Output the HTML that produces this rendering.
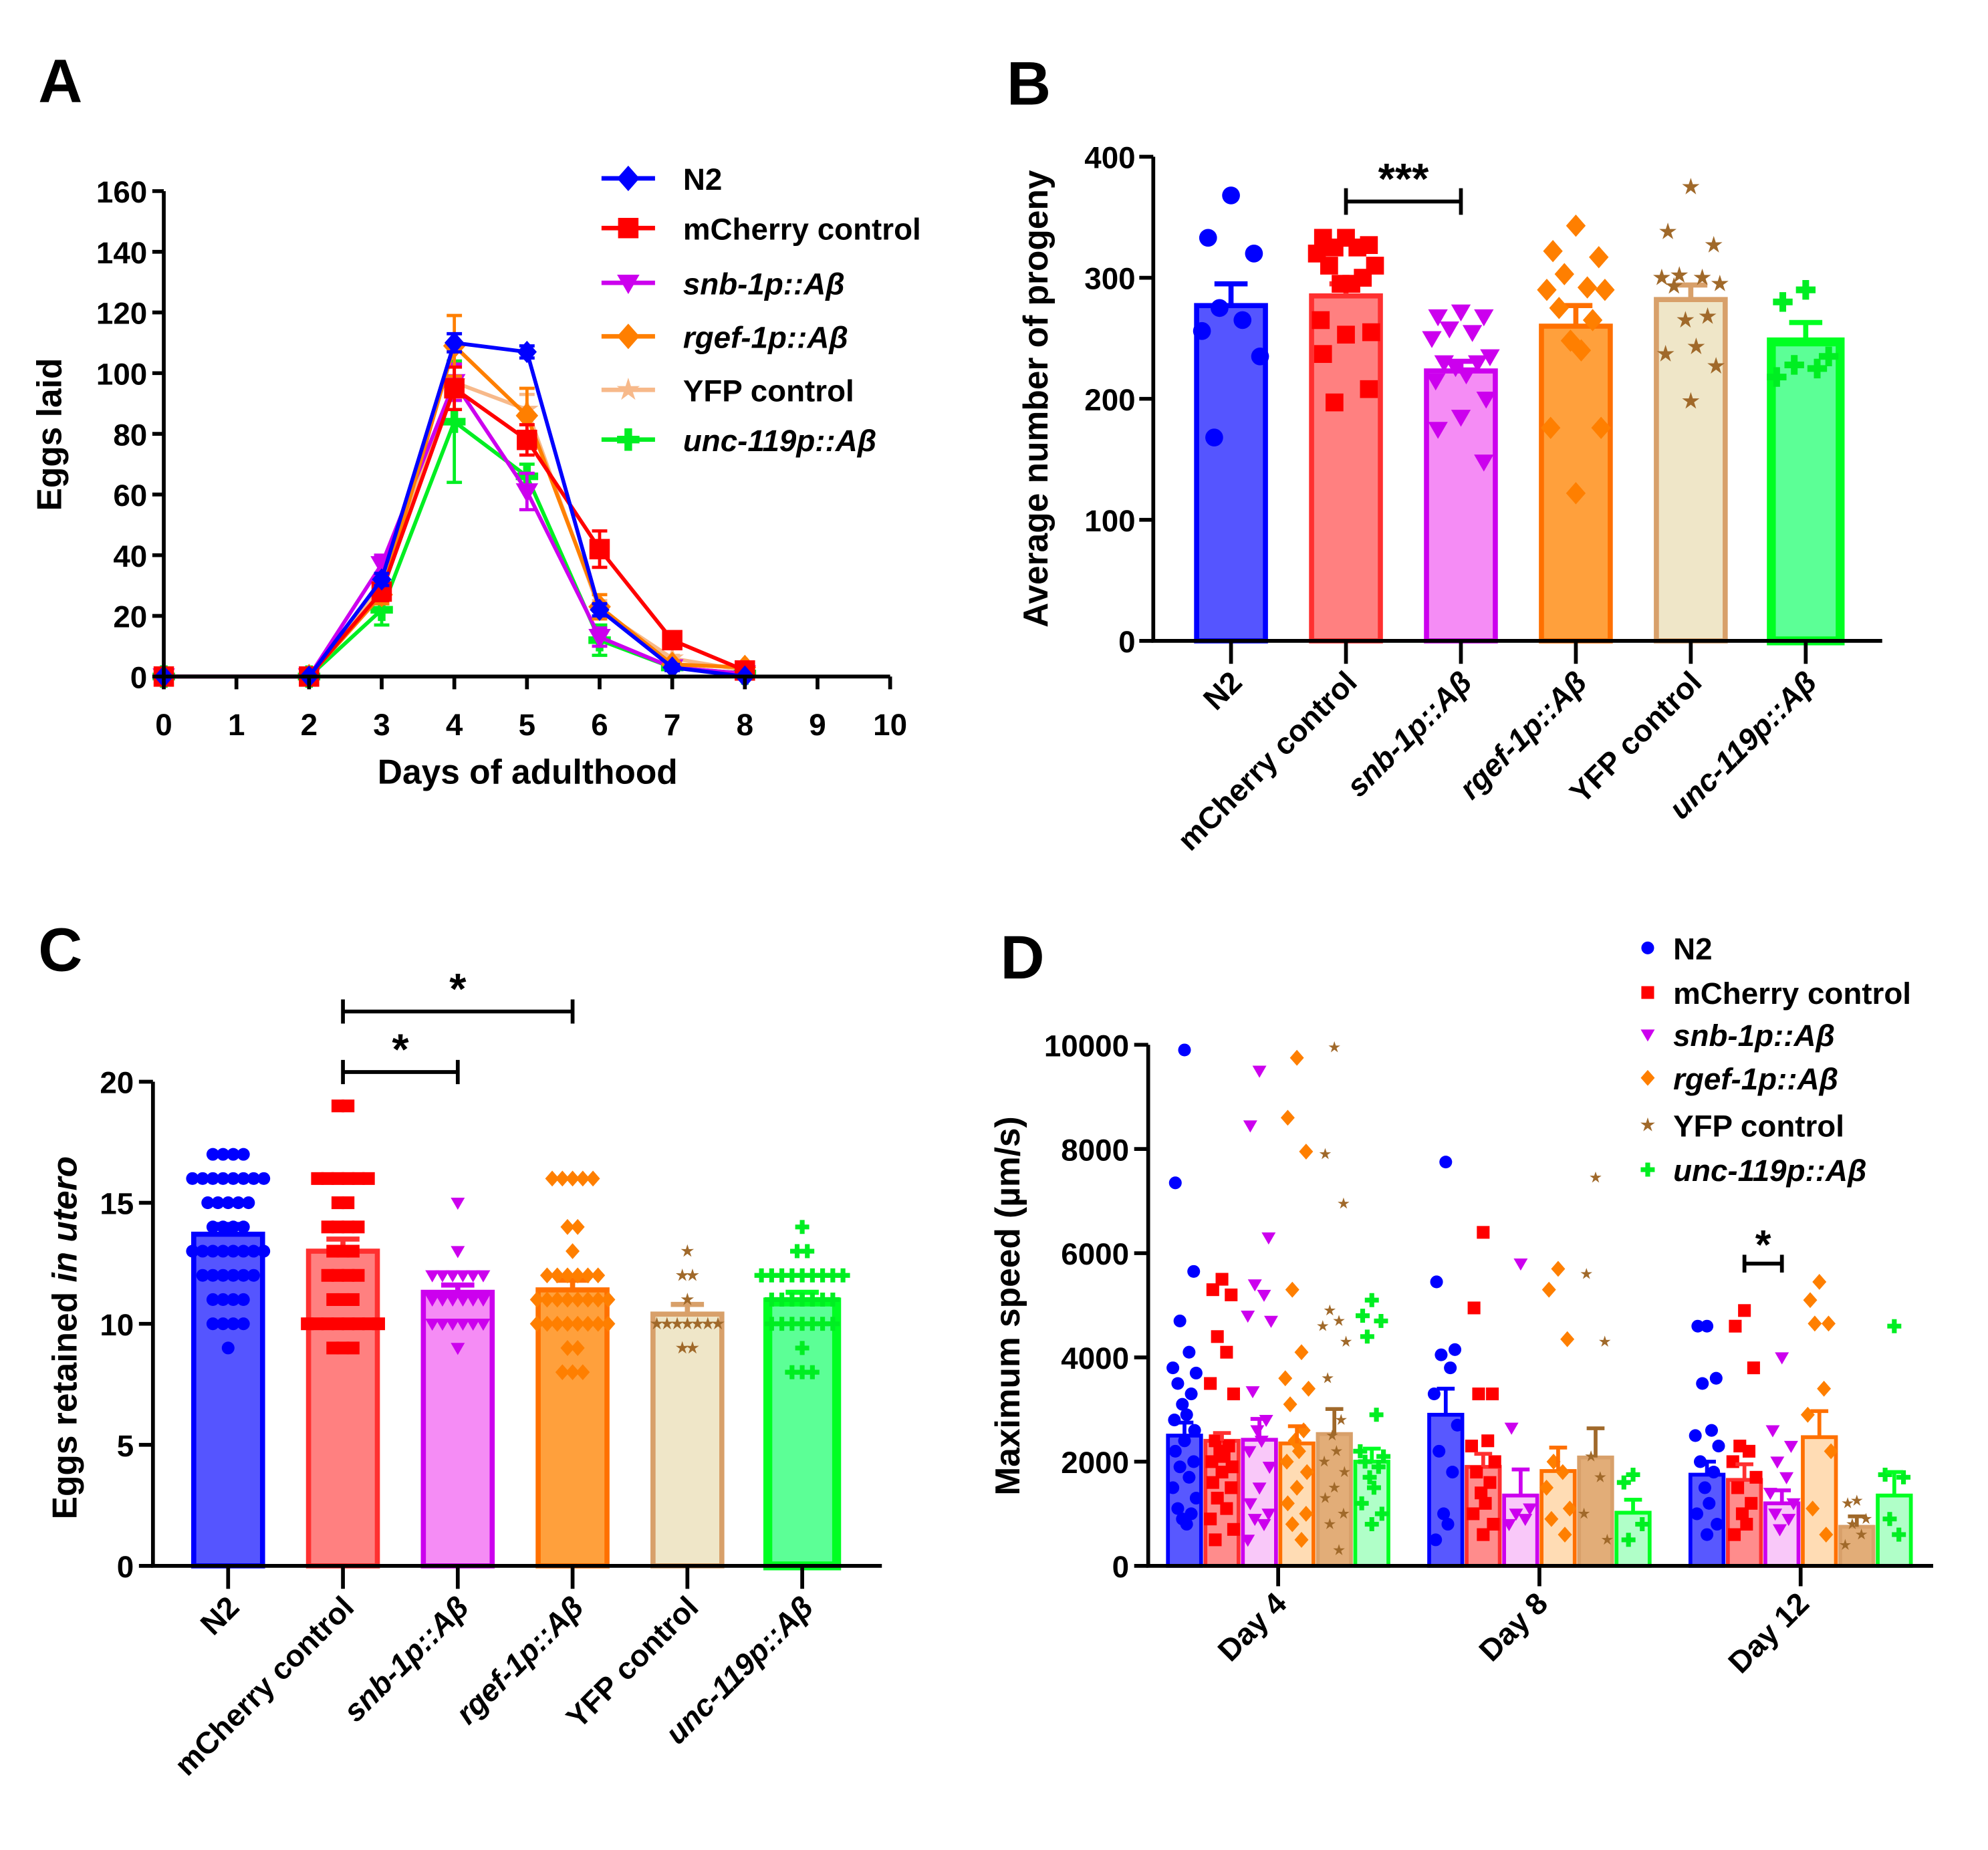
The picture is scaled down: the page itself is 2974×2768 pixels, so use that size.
<!DOCTYPE html>
<html><head><meta charset="utf-8"><style>
html,body{margin:0;padding:0;background:#fff;}
svg{display:block;font-family:"Liberation Sans",Arial,sans-serif;font-weight:bold;}
</style></head><body>
<svg id="fig" xmlns="http://www.w3.org/2000/svg" width="2974" height="2768" viewBox="0 0 1560 1452">
<rect x="0" y="0" width="1560" height="1452" fill="#fff"/>
<text x="30" y="80" font-size="48">A</text>
<text x="790" y="82" font-size="48">B</text>
<text x="30" y="762" font-size="48">C</text>
<text x="785" y="768" font-size="48">D</text>
<g id="A"></g>
<g id="B"></g>
<g id="C"></g>
<g id="D"></g>
</svg>
<script>
// ---------- shared data ----------
const groups = ["N2","mCherry control","snb-1p::Aβ","rgef-1p::Aβ","YFP control","unc-119p::Aβ"];
const italicGroup = [false,false,true,true,false,true];
const markerType = ["circle","square","tri","diamond","star","plus"];
const lineColor = ["#0000ff","#ff0000","#cc00ee","#ff7f00","#f7b98a","#00ee22"];
const pointColor = ["#0000ff","#ff0000","#cc00ee","#ff7f00","#a0692a","#00ee22"];
const fillB = ["#5555ff","#ff8080","#f58cf5","#ffa03c","#efe6c8","#5cff96"];
const strokeB = ["#0000ff","#ff3030","#cc00ee","#ff7000","#d8a06a","#00ff22"];
const fillD = ["#5858ff","#ff8c8c","#f9c8f9","#ffdcb4","#e2ad78","#b0ffc8"];

// ---------- panel A data ----------
const daysA = [0,2,3,4,5,6,7,8];
const eggsN2 = [0,0,32,110,107,22,3,0];
const eggsMCh = [0,0,28,95,78,42,12,2];
const eggsSnb = [0,0,37,97,61,13,3,1];
const eggsRgef = [0,0,27,109,86,23,4,3];
const eggsYFP = [0,0,30,97,88,22,6,2];
const eggsUnc = [0,0,22,84,66,12,3,1];
const errN2 = [0,0,2,3,2,2,1,0];
const errMCh = [0,0,3,7,5,6,2,1];
const errSnb = [0,0,3,6,6,3,1,0];
const errRgef = [0,0,3,10,9,4,1,1];
const errYFP = [0,0,3,6,5,3,1,0];
const errUnc = [0,0,5,20,4,5,1,0];
const yTicksA = [0,20,40,60,80,100,120,140,160];
const xTicksA = [0,1,2,3,4,5,6,7,8,9,10];

// ---------- panel B data ----------
const meanB = [277,285,223,260,282,247];
const semB = [18,10,8,17,12,16];
const ptsB0 = [368,333,320,275,265,256,235,168];
const ptsB1 = [333,333,327,325,325,320,310,310,300,295,295,265,255,253,237,208,197];
const ptsB2 = [272,268,268,258,255,250,235,230,230,226,220,215,200,185,175,148];
const ptsB3 = [343,322,317,303,292,290,290,275,265,248,240,176,176,122];
const ptsB4 = [375,338,327,302,300,300,295,293,268,265,243,237,227,198];
const ptsB5 = [290,280,235,228,225,218];
const yTicksB = [0,100,200,300,400];

// ---------- panel C data ----------
const meanC = [13.7,13.0,11.3,11.4,10.4,10.9];
const semC = [0.4,0.5,0.3,0.4,0.4,0.4];
const ptsC0 = [17,17,17,17,16,16,16,16,16,16,16,16,15,15,15,15,15,14,14,14,14,13,13,13,13,13,13,13,13,12,12,12,12,12,12,11,11,11,11,10,10,10,10,9];
const ptsC1 = [19,19,16,16,16,16,16,16,15,15,14,14,14,14,13,13,13,12,12,12,12,11,11,11,10,10,10,10,10,10,10,10,9,9,9];
const ptsC2 = [15,13,12,12,12,12,12,12,11,11,11,11,11,11,10,10,10,10,10,10,9];
const ptsC3 = [16,16,16,16,16,14,14,13,12,12,12,12,12,12,11,11,11,11,11,11,11,11,10,10,10,10,10,10,10,10,9,9,8,8,8];
const ptsC4 = [13,12,12,11,10,10,10,10,10,10,10,9,9];
const ptsC5 = [14,13,13,12,12,12,12,12,12,12,12,12,11,11,11,11,11,11,11,10,10,10,10,10,10,10,9,8,8,8];
const yTicksC = [0,5,10,15,20];

// ---------- panel D data ----------
const days = ["Day 4","Day 8","Day 12"];
const meanD4 = [2500,2400,2420,2350,2530,2000];
const meanD8 = [2900,1900,1350,1820,2080,1020];
const meanD12 = [1750,1650,1200,2470,750,1350];
const semD4 = [250,150,400,330,480,250];
const semD8 = [500,250,500,450,560,250];
const semD12 = [250,300,250,500,200,450];
const ptsD4_0 = [9900,7350,5650,4700,4100,3800,3700,3500,3300,3100,2900,2800,2600,2400,2200,2000,1900,1700,1500,1300,1100,1000,900,800];
const ptsD4_1 = [5500,5300,5200,4400,4100,3500,3300,2400,2300,2200,2100,2000,1900,1800,1600,1500,1300,1100,900,700,500];
const ptsD4_2 = [9500,8450,6300,5400,5200,4800,4700,3350,2800,2600,2400,2200,1900,1500,1200,1000,900,800,500];
const ptsD4_3 = [9750,8600,7950,5300,4100,3600,3400,3100,2600,2400,2200,2000,1800,1500,1200,1000,800,500];
const ptsD4_4 = [9950,7900,6950,4900,4700,4600,4300,3600,2800,2500,2200,2000,1800,1500,1300,1000,800,300];
const ptsD4_5 = [5100,4800,4700,4400,2900,2200,2100,2000,1900,1700,1500,1200,1000,800];
const ptsD8_0 = [7750,5450,4150,4050,3800,3300,2700,2200,1800,1000,800,500];
const ptsD8_1 = [6400,4950,3300,3300,2400,2300,2000,1800,1600,1400,1200,1000,800,600];
const ptsD8_2 = [5800,2650,1100,1000,900,800];
const ptsD8_3 = [5700,5300,4350,2000,1800,1500,1100,900,600];
const ptsD8_4 = [7450,5600,4300,2100,1700,1000,500];
const ptsD8_5 = [1750,1600,800,500];
const ptsD12_0 = [4600,4600,3600,3500,2600,2500,2300,2000,1800,1500,1200,1000,800,600];
const ptsD12_1 = [4900,4600,3800,2300,2200,2000,1700,1500,1200,1000,800,600];
const ptsD12_2 = [4000,2600,2300,2000,1700,1400,1200,1000,900,700];
const ptsD12_3 = [5450,5100,4650,4650,3400,2900,2200,1100,600];
const ptsD12_4 = [1250,1200,900,800,600,400];
const ptsD12_5 = [4600,1750,1700,900,600];
const yTicksD = [0,2000,4000,6000,8000,10000];

// ---------- helpers ----------
const NS = "http://www.w3.org/2000/svg";
function mk(tag, attrs, parent){
  const e = document.createElementNS(NS, tag);
  for (const k in attrs) e.setAttribute(k, attrs[k]);
  parent.appendChild(e);
  return e;
}
function marker(parent, type, cx, cy, r, color){
  let el;
  if (type === "circle") el = mk("circle",{cx:cx,cy:cy,r:r,fill:color},parent);
  else if (type === "square") el = mk("rect",{x:cx-r,y:cy-r,width:2*r,height:2*r,fill:color},parent);
  else if (type === "tri") el = mk("polygon",{points:`${cx-r*1.1},${cy-r*0.8} ${cx+r*1.1},${cy-r*0.8} ${cx},${cy+r*1.1}`,fill:color},parent);
  else if (type === "diamond") el = mk("polygon",{points:`${cx},${cy-r*1.25} ${cx+r*1.1},${cy} ${cx},${cy+r*1.25} ${cx-r*1.1},${cy}`,fill:color},parent);
  else if (type === "star"){
    let p = [];
    for (let i=0;i<10;i++){ const a = -Math.PI/2 + i*Math.PI/5; const rr = i%2? r*0.45 : r*1.2; p.push((cx+rr*Math.cos(a)).toFixed(1)+","+(cy+rr*Math.sin(a)).toFixed(1)); }
    el = mk("polygon",{points:p.join(" "),fill:color},parent);
  } else {
    el = mk("path",{d:`M${cx-r*1.1},${cy}H${cx+r*1.1}M${cx},${cy-r*1.1}V${cy+r*1.1}`,stroke:color,"stroke-width":r*0.75,fill:"none"},parent);
  }
  
  
  return el;
}
function groupLabel(parent, i, x, y, size){
  const t = mk("text",{x:x,y:y,"font-size":size,"text-anchor":"end",transform:`rotate(-45 ${x} ${y})`},parent);
  if (italicGroup[i]) t.setAttribute("font-style","italic");
  t.textContent = groups[i];
  
  
}
const jitter = [0,-0.3,0.3,-0.15,0.15,-0.38,0.38,-0.22,0.22,-0.07,0.07,-0.33,0.33];

// ---------- Panel A ----------
(function(){
  const g = document.getElementById("A");
  const xA = d => 128.5 + d*57;
  const yA = v => 531 - v*(381/160);
  const series = [eggsN2,eggsMCh,eggsSnb,eggsRgef,eggsYFP,eggsUnc];
  const errs = [errN2,errMCh,errSnb,errRgef,errYFP,errUnc];
  const order = [4,5,2,3,1,0];
  order.forEach(s=>{
    const sg = mk("g",{},g);
    
    
    const d = daysA.map((x,i)=>(i?"L":"M")+xA(x)+","+yA(series[s][i])).join("");
    const ln = mk("path",{d:d,stroke:lineColor[s],"stroke-width":3,fill:"none"},sg);
    
    
    daysA.forEach((x,i)=>{
      const e = errs[s][i];
      if (e>0){
        const eb = mk("path",{d:`M${xA(x)},${yA(series[s][i]-e)}V${yA(series[s][i]+e)}M${xA(x)-6},${yA(series[s][i]+e)}h12M${xA(x)-6},${yA(series[s][i]-e)}h12`,stroke:lineColor[s],"stroke-width":2.5,fill:"none"},sg);
        
        
      }
      marker(sg, s===0?"diamond":markerType[s], xA(x), yA(series[s][i]), s===0?7:8, lineColor[s]);
    });
  });
  const ax = mk("path",{d:`M${xA(0)},${yA(160)}V${yA(0)}H${xA(10)}`,stroke:"#000","stroke-width":3,fill:"none"},g);
  
  
  yTicksA.forEach(v=>{
    const t = mk("path",{d:`M${xA(0)-9},${yA(v)}H${xA(0)}`,stroke:"#000","stroke-width":3},g);
    
    
    const l = mk("text",{x:xA(0)-13,y:yA(v)+9,"font-size":24,"text-anchor":"end"},g);
    l.textContent = v;
    
    
  });
  xTicksA.forEach(v=>{
    const t = mk("path",{d:`M${xA(v)},${yA(0)}V${yA(0)+10}`,stroke:"#000","stroke-width":3},g);
    
    
    const l = mk("text",{x:xA(v),y:yA(0)+46,"font-size":24,"text-anchor":"middle"},g);
    l.textContent = v;
    
    
  });
  const xt = mk("text",{x:414,y:615,"font-size":27,"text-anchor":"middle"},g);
  xt.textContent = "Days of adulthood";
  
  
  const yt = mk("text",{x:0,y:0,"font-size":27,"text-anchor":"middle",transform:"translate(48,341) rotate(-90)"},g);
  yt.textContent = "Eggs laid";
  
  
  const legY = [140,179,222,264,306,345];
  groups.forEach((n,i)=>{
    const lg = mk("g",{},g);
    
    
    mk("path",{d:`M472,${legY[i]}H514`,stroke:lineColor[i],"stroke-width":3.5},lg);
    marker(lg, i===0?"diamond":markerType[i], 493, legY[i], 8, lineColor[i]);
    const t = mk("text",{x:536,y:legY[i]+9,"font-size":24},lg);
    if (italicGroup[i]) t.setAttribute("font-style","italic");
    t.textContent = n;
  });
})();

// ---------- Panel B ----------
(function(){
  const g = document.getElementById("B");
  const xB = i => 966 + i*90.2;
  const yB = v => 503 - v*0.95;
  const pts = [ptsB0,ptsB1,ptsB2,ptsB3,ptsB4,ptsB5];
  groups.forEach((n,i)=>{
    const bg = mk("g",{},g);
    
    
    const b = mk("rect",{x:xB(i)-27,y:yB(meanB[i]),width:54,height:yB(0)-yB(meanB[i]),fill:fillB[i],stroke:strokeB[i],"stroke-width":i===5?7:4},bg);
    
    
    const e = mk("path",{d:`M${xB(i)},${yB(meanB[i])}V${yB(meanB[i]+semB[i])}M${xB(i)-13},${yB(meanB[i]+semB[i])}h26`,stroke:strokeB[i],"stroke-width":4,fill:"none"},bg);
    
    
    pts[i].forEach((v,k)=> marker(bg, markerType[i], xB(i)+jitter[k%jitter.length]*60, yB(v), i===4?6:7, pointColor[i]));
    const t = mk("path",{d:`M${xB(i)},${yB(0)}V${yB(0)+18}`,stroke:"#000","stroke-width":3},g);
    
    
    groupLabel(g, i, xB(i)+10, 537, 24);
  });
  const ax = mk("path",{d:`M905,${yB(400)}V${yB(0)}H1477`,stroke:"#000","stroke-width":3,fill:"none"},g);
  
  
  yTicksB.forEach(v=>{
    const t = mk("path",{d:`M894,${yB(v)}H905`,stroke:"#000","stroke-width":3},g);
    
    
    const l = mk("text",{x:891,y:yB(v)+9,"font-size":24,"text-anchor":"end"},g);
    l.textContent = v;
    
    
  });
  const yt = mk("text",{x:0,y:0,"font-size":27,"text-anchor":"middle",transform:"translate(822,313) rotate(-90)"},g);
  yt.textContent = "Average number of progeny";
  
  
  const s = mk("path",{d:`M${xB(1)},${yB(352)}V${yB(374)}M${xB(1)},${yB(363)}H${xB(2)}M${xB(2)},${yB(352)}V${yB(374)}`,stroke:"#000","stroke-width":3,fill:"none"},g);
  
  
  const st = mk("text",{x:(xB(1)+xB(2))/2,y:yB(363)-6,"font-size":34,"text-anchor":"middle"},g);
  st.textContent = "***";
  
  
})();

// ---------- Panel C ----------
(function(){
  const g = document.getElementById("C");
  const xC = i => 179 + i*90.1;
  const yC = v => 1229 - v*19;
  const pts = [ptsC0,ptsC1,ptsC2,ptsC3,ptsC4,ptsC5];
  groups.forEach((n,i)=>{
    const bg = mk("g",{},g);
    
    
    const b = mk("rect",{x:xC(i)-27,y:yC(meanC[i]),width:54,height:yC(0)-yC(meanC[i]),fill:fillB[i],stroke:strokeB[i],"stroke-width":i===5?7:4},bg);
    
    
    const e = mk("path",{d:`M${xC(i)},${yC(meanC[i])}V${yC(meanC[i]+semC[i])}M${xC(i)-13},${yC(meanC[i]+semC[i])}h26`,stroke:strokeB[i],"stroke-width":4,fill:"none"},bg);
    
    
    const counts = {};
    pts[i].forEach(v=>{counts[v]=(counts[v]||0)+1;});
    const seen = {};
    pts[i].forEach(v=>{
      const k = seen[v]||0; seen[v]=k+1;
      marker(bg, markerType[i], xC(i)+(k-(counts[v]-1)/2)*8, yC(v), i===4?4.5:5, pointColor[i]);
    });
    const t = mk("path",{d:`M${xC(i)},${yC(0)}V${yC(0)+18}`,stroke:"#000","stroke-width":3},g);
    
    
    groupLabel(g, i, xC(i)+10, 1263, 24);
  });
  const ax = mk("path",{d:`M120,${yC(20)}V${yC(0)}H692`,stroke:"#000","stroke-width":3,fill:"none"},g);
  
  
  yTicksC.forEach(v=>{
    const t = mk("path",{d:`M109,${yC(v)}H120`,stroke:"#000","stroke-width":3},g);
    
    
    const l = mk("text",{x:105,y:yC(v)+9,"font-size":24,"text-anchor":"end"},g);
    l.textContent = v;
    
    
  });
  const yt = mk("text",{x:0,y:0,"font-size":27,"text-anchor":"middle",transform:"translate(60,1050) rotate(-90)"},g);
  yt.innerHTML = 'Eggs retained <tspan font-style="italic">in utero</tspan>';
  
  
  const br = [[2,20.4],[3,22.9]];
  br.forEach(b=>{
    const s = mk("path",{d:`M${xC(1)},${yC(b[1]-0.5)}V${yC(b[1]+0.5)}M${xC(1)},${yC(b[1])}H${xC(b[0])}M${xC(b[0])},${yC(b[1]-0.5)}V${yC(b[1]+0.5)}`,stroke:"#000","stroke-width":3,fill:"none"},g);
    
    
    const st = mk("text",{x:(xC(1)+xC(b[0]))/2,y:yC(b[1])-6,"font-size":34,"text-anchor":"middle"},g);
    st.textContent = "*";
    
    
  });
})();

// ---------- Panel D ----------
(function(){
  const g = document.getElementById("D");
  const gx = [1003,1208,1413];
  const xD = (d,j) => gx[d] + (j-2.5)*29.4;
  const yD = v => 1229 - v*0.0409;
  const means = [meanD4,meanD8,meanD12];
  const sems = [semD4,semD8,semD12];
  const pts = [[ptsD4_0,ptsD4_1,ptsD4_2,ptsD4_3,ptsD4_4,ptsD4_5],[ptsD8_0,ptsD8_1,ptsD8_2,ptsD8_3,ptsD8_4,ptsD8_5],[ptsD12_0,ptsD12_1,ptsD12_2,ptsD12_3,ptsD12_4,ptsD12_5]];
  days.forEach((dn,d)=>{
    groups.forEach((n,j)=>{
      const bg = mk("g",{},g);
      
      
      const x = xD(d,j), m = means[d][j];
      const b = mk("rect",{x:x-13,y:yD(m),width:26,height:yD(0)-yD(m),fill:fillD[j],stroke:strokeB[j],"stroke-width":3},bg);
      
      
      pts[d][j].forEach((v,k)=> marker(bg, markerType[j], x+jitter[k%jitter.length]*24, yD(v), j===4?4:5, pointColor[j]));
      const e = mk("path",{d:`M${x},${yD(m)}V${yD(m+sems[d][j])}M${x-7},${yD(m+sems[d][j])}h14`,stroke:j===4?"#a0692a":strokeB[j],"stroke-width":3,fill:"none"},bg);
      
      
    });
    const t = mk("path",{d:`M${gx[d]},${yD(0)}V${yD(0)+16}`,stroke:"#000","stroke-width":3},g);
    
    
    const l = mk("text",{x:gx[d]+8,y:1260,"font-size":24,"text-anchor":"end",transform:`rotate(-45 ${gx[d]+8} 1260)`},g);
    l.textContent = dn;
    
    
  });
  const ax = mk("path",{d:`M901,${yD(10000)}V${yD(0)}H1517`,stroke:"#000","stroke-width":3,fill:"none"},g);
  
  
  yTicksD.forEach(v=>{
    const t = mk("path",{d:`M890,${yD(v)}H901`,stroke:"#000","stroke-width":3},g);
    
    
    const l = mk("text",{x:886,y:yD(v)+9,"font-size":24,"text-anchor":"end"},g);
    l.textContent = v;
    
    
  });
  const yt = mk("text",{x:0,y:0,"font-size":27,"text-anchor":"middle",transform:"translate(800,1025) rotate(-90)"},g);
  yt.textContent = "Maximum speed (µm/s)";
  
  
  const x1 = xD(2,1), x2 = xD(2,2), yb = yD(5800);
  const s = mk("path",{d:`M${x1},${yb-7}V${yb+7}M${x1},${yb}H${x2}M${x2},${yb-7}V${yb+7}`,stroke:"#000","stroke-width":3,fill:"none"},g);
  
  
  const st = mk("text",{x:(x1+x2)/2,y:yb-4,"font-size":32,"text-anchor":"middle"},g);
  st.textContent = "*";
  
  
  const legY = [744,779,812,846,883,918];
  groups.forEach((n,i)=>{
    const lg = mk("g",{},g);
    
    
    marker(lg, markerType[i], 1293, legY[i], 5, pointColor[i]);
    const t = mk("text",{x:1313,y:legY[i]+9,"font-size":24},lg);
    if (italicGroup[i]) t.setAttribute("font-style","italic");
    t.textContent = n;
  });
})();
</script>
</body></html>
